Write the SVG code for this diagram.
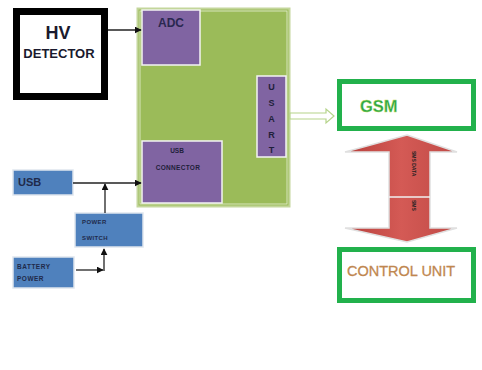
<svg xmlns="http://www.w3.org/2000/svg" width="482" height="370" viewBox="0 0 482 370">
<style>
.lbl{font-family:"Liberation Sans",Arial,sans-serif;font-weight:bold}
.blue{fill:#4f81bd;stroke:#dfe6ee;stroke-width:1.5}
.purple{fill:#8064a2;stroke:#f4f4f4;stroke-width:1.5}
.gbox{fill:#fff;stroke:#22b14c;stroke-width:5}
.conn{stroke:#222;stroke-width:1.3;fill:none}
</style>
<defs>
<marker id="ah" viewBox="0 0 10 10" refX="9" refY="5" markerWidth="7" markerHeight="7" markerUnits="userSpaceOnUse" orient="auto">
<path d="M0,0 L10,5 L0,10 z" fill="#111"/>
</marker>
<linearGradient id="red" x1="0" y1="0" x2="1" y2="0">
<stop offset="0" stop-color="#b8403c"/>
<stop offset="0.5" stop-color="#d45a55"/>
<stop offset="1" stop-color="#c04a46"/>
</linearGradient>
</defs>
<rect width="482" height="370" fill="#fff"/>

<g id="hv-detector">
<rect x="16.5" y="11.5" width="88" height="85" fill="#fff" stroke="#000" stroke-width="7"/>
<text class="lbl" x="58" y="39" font-size="18" text-anchor="middle" fill="#1a1a2e">HV</text>
<text class="lbl" x="59" y="58" font-size="13" text-anchor="middle" fill="#1a1a2e">DETECTOR</text>
</g>

<g id="mcu">
<rect x="137.5" y="8.5" width="152" height="198" fill="#9bbb59" stroke="#c3d69b" stroke-width="2"/>
<rect x="140" y="11" width="147" height="193" fill="none" stroke="#e6efd5" stroke-width="0.8"/>
</g>
<g id="adc">
<rect class="purple" x="142" y="10" width="58" height="55"/>
<text class="lbl" x="171" y="27" font-size="12" text-anchor="middle" fill="#2a2850">ADC</text>
</g>
<g id="usart">
<rect class="purple" x="257" y="76" width="29" height="81"/>
<g class="lbl" font-size="9" text-anchor="middle" fill="#1f1f3a">
<text x="271.5" y="90">U</text>
<text x="271.5" y="106">S</text>
<text x="271.5" y="122">A</text>
<text x="271.5" y="138">R</text>
<text x="271.5" y="153">T</text>
</g>
</g>
<g id="usb-connector">
<rect class="purple" x="142" y="141" width="80" height="62"/>
<text class="lbl" x="177" y="153" font-size="6.5" text-anchor="middle" fill="#1f1f3a">USB</text>
<text class="lbl" x="178" y="170" font-size="6.5" text-anchor="middle" fill="#1f1f3a" letter-spacing="0.3">CONNECTOR</text>
</g>

<g id="usb">
<rect class="blue" x="13" y="170" width="60" height="25"/>
<text class="lbl" x="18" y="186" font-size="11" fill="#1f2a4a">USB</text>
</g>
<g id="power-switch">
<rect class="blue" x="75" y="213" width="68" height="34"/>
<text class="lbl" x="82" y="224" font-size="6" fill="#1f2a4a" letter-spacing="0.4">POWER</text>
<text class="lbl" x="82" y="240" font-size="6" fill="#1f2a4a" letter-spacing="0.4">SWITCH</text>
</g>
<g id="battery-power">
<rect class="blue" x="13" y="257" width="61" height="31"/>
<text class="lbl" x="17" y="269" font-size="6.5" fill="#1f2a4a" letter-spacing="0.5">BATTERY</text>
<text class="lbl" x="17" y="281" font-size="6.5" fill="#1f2a4a" letter-spacing="0.5">POWER</text>
</g>

<g id="gsm">
<rect class="gbox" x="339.5" y="81.5" width="134" height="47"/>
<text class="lbl" x="360" y="112" font-size="16.5" fill="#2ea84a" stroke="#c8e05a" stroke-width="0.3">GSM</text>
</g>
<g id="control-unit">
<rect class="gbox" x="339.5" y="249.5" width="134" height="51"/>
<text x="347" y="276" font-family="'Liberation Sans',Arial,sans-serif" font-size="14.5" fill="#c0874f" stroke="#c0874f" stroke-width="0.3">CONTROL UNIT</text>
</g>

<g id="connectors">
<line class="conn" x1="108" y1="30" x2="141" y2="30" marker-end="url(#ah)"/>
<line class="conn" x1="73" y1="183" x2="141" y2="183" marker-end="url(#ah)"/>
<line class="conn" x1="105" y1="213" x2="105" y2="184" marker-end="url(#ah)"/>
<polyline class="conn" points="76,270 103,270" marker-end="url(#ah)"/>
<line class="conn" x1="104" y1="271" x2="104" y2="249" marker-end="url(#ah)"/>
<path d="M290,113 L326,113 L326,109 L334,116 L326,123 L326,119 L290,119 z" fill="#fff" stroke="#b5d48a" stroke-width="1.2"/>
<g id="gsm-control-arrow">
<path d="M407,135 L457,152 L430,152 L430,228 L457,228 L407,242 L345,228 L389,228 L389,152 L345,152 z" fill="url(#red)" stroke="#e0e0e0" stroke-width="1.5"/>
<line x1="389" y1="197" x2="430" y2="197" stroke="#f0f0f0" stroke-width="1.5"/>
<text x="0" y="0" transform="translate(412,151) rotate(90)" font-family="'Liberation Sans',Arial,sans-serif" font-weight="bold" font-size="5" fill="#222">SMS DATA</text>
<text x="0" y="0" transform="translate(412,200) rotate(90)" font-family="'Liberation Sans',Arial,sans-serif" font-weight="bold" font-size="5" fill="#222">SMS</text>
</g>
</g>
</svg>
